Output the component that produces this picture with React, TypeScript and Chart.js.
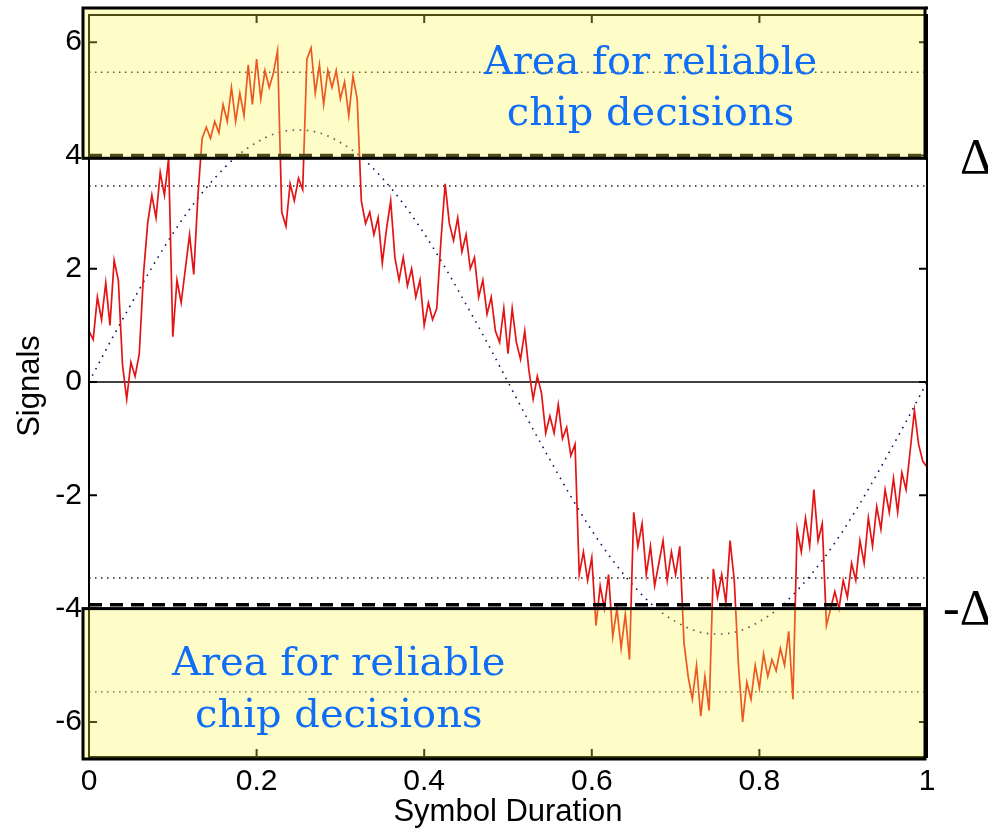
import React, { useEffect, useRef } from "react";
import { Chart, registerables } from "chart.js";

Chart.register(...registerables);

// ---------- data ----------
const signalStep = 0.005; // sampling step along "Symbol Duration"
const signal = [
  0.9, 0.75, 1.5, 1.1, 1.75, 1.0, 2.15, 1.8, 0.3, -0.3,
  0.35, 0.1, 0.5, 1.9, 2.8, 3.3, 2.9, 3.7, 3.3, 3.95,
  0.8, 1.8, 1.4, 2.0, 2.6, 1.9, 3.3, 4.3, 4.5, 4.3,
  4.6, 4.4, 4.9, 4.6, 5.2, 4.6, 5.1, 4.7, 5.6, 4.9,
  5.7, 5.0, 5.5, 5.2, 5.45, 5.85, 3.0, 2.75, 3.5, 3.2,
  3.6, 3.4, 5.7, 5.9, 5.1, 5.6, 4.9, 5.5, 5.2, 5.5,
  5.0, 5.3, 4.7, 5.4, 5.0, 3.2, 2.8, 3.0, 2.6, 2.9,
  2.1, 2.7, 3.2, 2.2, 1.8, 2.2, 1.7, 2.0, 1.5, 1.8,
  1.0, 1.4, 1.1, 1.3, 2.5, 3.5, 2.8, 2.5, 2.9, 2.3,
  2.6, 2.0, 2.2, 1.5, 1.8, 1.2, 1.5, 0.9, 0.7, 1.3,
  0.5, 1.3, 0.7, 0.4, 0.9, 0.2, -0.3, 0.1, -0.2, -0.9,
  -0.6, -0.9, -0.4, -1.0, -0.8, -1.3, -1.1, -3.4, -3.0, -3.5,
  -3.1, -4.3, -3.6, -4.0, -3.4, -4.5, -4.0, -4.7, -4.1, -4.9,
  -2.3, -2.9, -2.5, -3.4, -2.9, -3.6, -3.2, -2.8, -3.5, -3.0,
  -3.4, -2.9, -4.6, -5.2, -5.6, -5.0, -5.9, -5.2, -5.8, -3.3,
  -3.8, -3.4, -3.9, -2.8, -3.5, -5.0, -6.0, -5.3, -5.6, -5.0,
  -5.4, -4.8, -5.2, -4.9, -5.1, -4.7, -5.0, -4.4, -5.6, -2.6,
  -3.0, -2.4, -2.9, -1.9, -2.8, -2.5, -4.3, -4.0, -3.7, -4.0,
  -3.5, -3.8, -3.2, -3.5, -2.8, -3.2, -2.4, -2.9, -2.2, -2.6,
  -1.9, -2.3, -1.7, -2.3, -1.6, -1.9, -1.2, -0.5, -1.1, -1.4,
  -1.5,
];

const refStep = 0.025;
const reference = [
  0, 0.70, 1.37, 2.02, 2.62, 3.15, 3.60, 3.97, 4.23, 4.40,
  4.45, 4.40, 4.23, 3.97, 3.60, 3.15, 2.62, 2.02, 1.37, 0.70,
  0, -0.70, -1.37, -2.02, -2.62, -3.15, -3.60, -3.97, -4.23, -4.40,
  -4.45, -4.40, -4.23, -3.97, -3.60, -3.15, -2.62, -2.02, -1.37, -0.70,
  0,
];

const dottedLevels = [5.47, 3.46, -3.46, -5.47];
const deltaUpper = 4.0;
const deltaLower = -3.93;
const boxUpperEdge = 3.95;
const boxLowerEdge = -4.0;

const xTicks = [0, 0.2, 0.4, 0.6, 0.8, 1];
const yTicks = [-6, -4, -2, 0, 2, 4, 6];
const xMin = 0;
const xMax = 1;
const yMin = -6.62;
const yMax = 6.48;

const areaLines = ["Area for reliable", "chip decisions"];
const upperTextPos = { x: 0.67, y1: 5.43, y2: 4.53 };
const lowerTextPos = { x: 0.298, y1: -5.17, y2: -6.09 };

const AXIS_FONT = '"Liberation Sans", Arial, sans-serif';

const overlayPlugin = {
  id: "overlay",
  afterDatasetsDraw(chart: any) {
    const { ctx, chartArea, scales } = chart;
    const xs = scales.x;
    const ys = scales.y;
    const L = chartArea.left;
    const R = chartArea.right;
    const T = chartArea.top;
    const B = chartArea.bottom;
    ctx.save();

    // dashed threshold lines
    ctx.strokeStyle = "#000";
    ctx.lineWidth = 3.5;
    ctx.setLineDash([13, 8]);
    for (const v of [deltaUpper, deltaLower]) {
      const y = ys.getPixelForValue(v);
      ctx.beginPath();
      ctx.moveTo(L, y);
      ctx.lineTo(R, y);
      ctx.stroke();
    }
    ctx.setLineDash([]);

    // axes frame
    ctx.lineWidth = 2;
    ctx.strokeRect(L, T, R - L, B - T);
    // inward ticks
    for (const v of yTicks) {
      const y = ys.getPixelForValue(v);
      ctx.beginPath();
      ctx.moveTo(L, y);
      ctx.lineTo(L + 8, y);
      ctx.moveTo(R, y);
      ctx.lineTo(R - 8, y);
      ctx.stroke();
    }
    for (const v of xTicks) {
      const x = xs.getPixelForValue(v);
      ctx.beginPath();
      ctx.moveTo(x, B);
      ctx.lineTo(x, B - 8);
      ctx.moveTo(x, T);
      ctx.lineTo(x, T + 8);
      ctx.stroke();
    }

    // yellow translucent boxes
    const bx0 = L - 6;
    const bx1 = R - 2;
    const upTop = T - 7;
    const upBot = ys.getPixelForValue(boxUpperEdge);
    const loTop = ys.getPixelForValue(boxLowerEdge);
    const loBot = B + 2;
    ctx.fillStyle = "rgba(255, 250, 70, 0.30)";
    ctx.fillRect(bx0, upTop, bx1 - bx0, upBot - upTop);
    ctx.fillRect(bx0, loTop, bx1 - bx0, loBot - loTop);
    ctx.strokeStyle = "#000";
    ctx.lineWidth = 3;
    ctx.strokeRect(bx0, upTop, bx1 - bx0, upBot - upTop);
    ctx.strokeRect(bx0, loTop, bx1 - bx0, loBot - loTop);
    ctx.beginPath();
    ctx.moveTo(bx1, upBot);
    ctx.lineTo(R + 1, upBot);
    ctx.moveTo(bx1, loTop);
    ctx.lineTo(R + 1, loTop);
    ctx.moveTo(bx1, upTop);
    ctx.lineTo(R + 1, upTop);
    ctx.stroke();

    // blue text
    ctx.fillStyle = "#0f6ef5";
    ctx.font = '40px "DejaVu Serif", serif';
    ctx.textAlign = "center";
    ctx.textBaseline = "alphabetic";
    const ux = xs.getPixelForValue(upperTextPos.x);
    ctx.fillText(areaLines[0], ux, ys.getPixelForValue(upperTextPos.y1));
    ctx.fillText(areaLines[1], ux, ys.getPixelForValue(upperTextPos.y2));
    const lx = xs.getPixelForValue(lowerTextPos.x);
    ctx.fillText(areaLines[0], lx, ys.getPixelForValue(lowerTextPos.y1));
    ctx.fillText(areaLines[1], lx, ys.getPixelForValue(lowerTextPos.y2));

    // delta labels
    ctx.fillStyle = "#000";
    ctx.font = '50px "Liberation Serif", "DejaVu Serif", serif';
    ctx.textAlign = "left";
    ctx.fillText("\u0394", R + 33, ys.getPixelForValue(deltaUpper) + 18);
    ctx.fillText("-\u0394", R + 16, ys.getPixelForValue(deltaLower) + 19);

    ctx.restore();
  },
};

export default function App() {
  const ref = useRef<HTMLCanvasElement | null>(null);

  useEffect(() => {
    if (!ref.current) return;
    const signalPts = signal.map((v, i) => ({ x: i * signalStep, y: v }));
    const refPts = reference.map((v, i) => ({ x: i * refStep, y: v }));
    const flat = (v: number) => [
      { x: xMin, y: v },
      { x: xMax, y: v },
    ];
    const datasets: any[] = [
      {
        data: signalPts,
        borderColor: "#e31414",
        borderWidth: 1.7,
        pointRadius: 0,
        tension: 0,
      },
      {
        data: refPts,
        borderColor: "#151565",
        borderWidth: 1.6,
        borderDash: [1.6, 5.5],
        pointRadius: 0,
        cubicInterpolationMode: "monotone",
      },
      ...dottedLevels.map((v) => ({
        data: flat(v),
        borderColor: "#222",
        borderWidth: 1.4,
        borderDash: [1.5, 4.5],
        pointRadius: 0,
      })),
      {
        data: flat(0),
        borderColor: "#000",
        borderWidth: 1.6,
        pointRadius: 0,
      },
    ];

    const chart = new Chart(ref.current, {
      type: "line",
      data: { datasets },
      plugins: [overlayPlugin],
      options: {
        responsive: false,
        animation: false,
        devicePixelRatio: 1,
        layout: { padding: { top: 15, right: 61, left: 0, bottom: 0 } },
        plugins: {
          legend: { display: false },
          tooltip: { enabled: false },
        },
        scales: {
          x: {
            type: "linear",
            min: xMin,
            max: xMax,
            grid: { display: false, drawTicks: false },
            border: { display: false },
            afterBuildTicks: (s: any) => {
              s.ticks = xTicks.map((v) => ({ value: v }));
            },
            afterFit: (s: any) => {
              s.height = 73;
              s.paddingLeft = 0;
              s.paddingRight = 0;
            },
            ticks: {
              color: "#000",
              padding: 7,
              font: { family: AXIS_FONT, size: 30 },
              maxRotation: 0,
              callback: (v: any) => String(Math.round(v * 10) / 10),
            },
            title: {
              display: true,
              text: "Symbol Duration",
              color: "#000",
              font: { family: AXIS_FONT, size: 31, lineHeight: 1.1 },
              padding: { top: 0, bottom: 0 },
            },
          },
          y: {
            type: "linear",
            min: yMin,
            max: yMax,
            grid: { display: false, drawTicks: false },
            border: { display: false },
            afterBuildTicks: (s: any) => {
              s.ticks = yTicks.map((v) => ({ value: v }));
            },
            afterFit: (s: any) => {
              s.width = 89;
              s.paddingTop = 0;
              s.paddingBottom = 0;
            },
            ticks: {
              color: "#000",
              padding: 7,
              font: { family: AXIS_FONT, size: 30 },
              callback: (v: any) => String(v),
            },
            title: {
              display: true,
              text: "Signals",
              color: "#000",
              font: { family: AXIS_FONT, size: 31, lineHeight: 1.1 },
              padding: { top: 13, bottom: 0 },
            },
          },
        },
      } as any,
    });
    return () => chart.destroy();
  }, []);

  return (
    <div style={{ position: "fixed", left: 0, top: 0, width: 988, height: 830, background: "#fff" }}>
      <canvas ref={ref} width={988} height={830} style={{ display: "block" }} />
    </div>
  );
}
